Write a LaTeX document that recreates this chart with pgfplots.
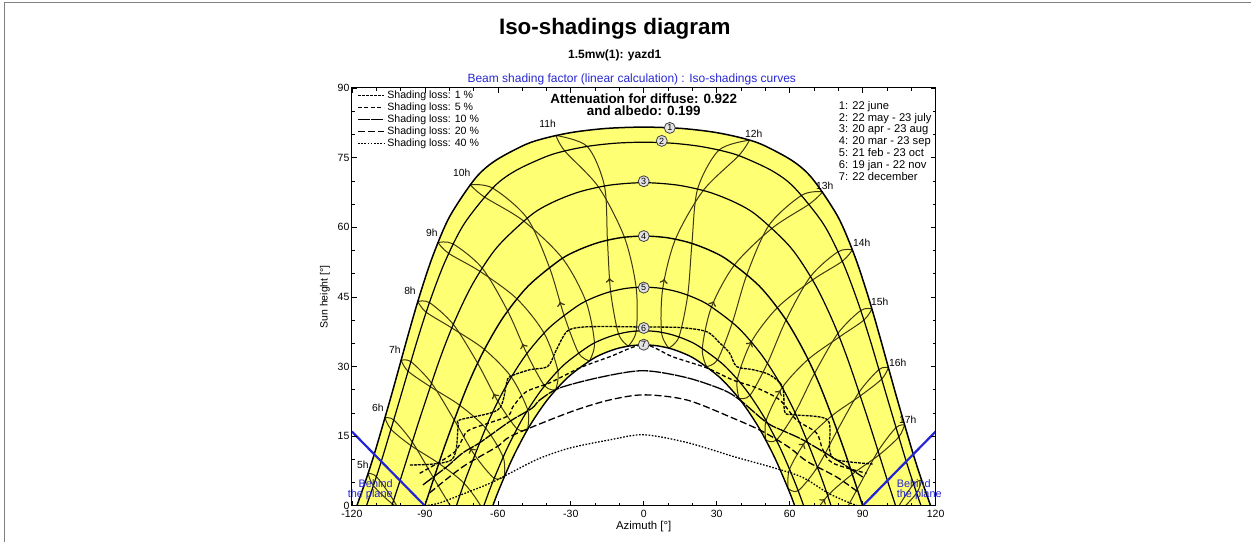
\documentclass[border=0pt]{standalone}
\usepackage{fontspec}
\setmainfont{Liberation Sans}
\usepackage{pgfplots}
\usepackage{pgfplotstable}
\pgfplotsset{compat=1.18}
\usepgfplotslibrary{fillbetween}
\usetikzlibrary{decorations.markings}

\definecolor{sunyellow}{RGB}{255,255,115}
\definecolor{hourline}{RGB}{60,55,15}
\definecolor{planeblue}{RGB}{35,35,215}
\definecolor{titleblue}{RGB}{40,40,210}

% daily sun paths (azimuth, height), 1 = 22 june ... 7 = 22 december
\pgfplotstableread{
az h
-117.94 0
-113.79 6.23
-110.21 12.13
-103.47 24.32
-96.84 36.85
-92.13 45.31
-86.73 53.80
-79.85 62.24
-69.41 70.43
-61.19 74.29
-48.74 77.79
-39.96 79.27
-28.84 80.48
-15.27 81.29
0 81.57
15.27 81.29
28.84 80.48
39.96 79.27
48.74 77.79
61.19 74.29
69.41 70.43
79.85 62.24
86.73 53.80
92.13 45.31
96.84 36.85
103.47 24.32
110.21 12.13
113.79 6.23
117.94 0
}\dayone
\pgfplotstableread{
az h
-114.0 0
-110.79 4.90
-107.35 10.52
-100.31 22.87
-93.19 35.51
-87.96 44.00
-81.82 52.45
-73.81 60.75
-61.71 68.65
-52.59 72.21
-39.86 75.28
-31.68 76.53
-22.17 77.50
-11.44 78.11
0 78.32
11.44 78.11
22.17 77.50
31.68 76.53
39.86 75.28
52.59 72.21
61.71 68.65
73.81 60.75
81.82 52.45
87.96 44.00
93.19 35.51
100.31 22.87
107.35 10.52
110.79 4.90
114.0 0
}\daytwo
\pgfplotstableread{
az h
-103.58 0
-99.80 6.05
-92.13 18.71
-83.97 31.42
-77.71 39.80
-70.15 47.96
-60.33 55.68
-46.57 62.52
-37.47 65.36
-26.54 67.61
-13.85 69.08
0 69.6
13.85 69.08
26.54 67.61
37.47 65.36
46.57 62.52
60.33 55.68
70.15 47.96
77.71 39.80
83.97 31.42
92.13 18.71
99.80 6.05
103.58 0
}\daythree
\pgfplotstableread{
az h
-90 0
-81.94 12.69
-73.04 25.12
-66.09 33.08
-57.80 40.57
-47.53 47.33
-34.56 52.92
-26.89 55.09
-18.45 56.73
-9.40 57.76
0 58.1
9.40 57.76
18.45 56.73
26.89 55.09
34.56 52.92
47.53 47.33
57.80 40.57
66.09 33.08
73.04 25.12
81.94 12.69
90 0
}\dayfour
\pgfplotstableread{
az h
-77.01 0
-72.65 6.60
-63.63 18.42
-56.62 25.78
-48.44 32.52
-38.76 38.39
-27.34 43.02
-20.96 44.77
-14.22 46.05
-7.18 46.84
0 47.1
7.18 46.84
14.22 46.05
20.96 44.77
27.34 43.02
38.76 38.39
48.44 32.52
56.62 25.78
63.63 18.42
72.65 6.60
77.01 0
}\dayfive
\pgfplotstableread{
az h
-65.76 0
-62.15 5.05
-56.19 12.34
-49.45 19.11
-41.74 25.18
-32.89 30.33
-22.83 34.30
-17.40 35.77
-11.73 36.83
-5.91 37.49
0 37.7
5.91 37.49
11.73 36.83
17.40 35.77
22.83 34.30
32.89 30.33
41.74 25.18
49.45 19.11
56.19 12.34
62.15 5.05
65.76 0
}\daysix
\pgfplotstableread{
az h
-62.06 0
-59.72 3.22
-53.87 10.33
-47.27 16.89
-39.75 22.74
-31.20 27.67
-21.59 31.45
-16.42 32.84
-11.06 33.85
-5.57 34.46
0 34.66
5.57 34.46
11.06 33.85
16.42 32.84
21.59 31.45
31.20 27.67
39.75 22.74
47.27 16.89
53.87 10.33
59.72 3.22
62.06 0
}\dayseven

\pgfplotsset{
  hourA/.style={hourline, line width=1bp, smooth, forget plot,
    postaction={decorate},
    decoration={markings, mark=at position 0.3 with {\arrow[scale=1.5]{>}}}},
  hourB/.style={hourline, line width=1bp, smooth, forget plot},
  daycurve/.style={black, line width=1.2bp, smooth, forget plot},
  iso/.style={black, line width=1.3bp, smooth},
}

\newcommand{\fs}[1]{\fontsize{#1bp}{#1bp}\selectfont}

\begin{document}
\begin{tikzpicture}
\path (0bp,0bp) rectangle (1251bp,542bp);
\draw[gray, line width=1bp] (5bp,0bp) -- (5bp,539.5bp) -- (1251bp,539.5bp);

\begin{axis}[
    at={(352bp,36bp)}, anchor=south west,
    scale only axis, width=584bp, height=418bp,
    xmin=-120, xmax=120, ymin=0, ymax=90,
    xtick={-120,-90,...,120}, ytick={0,15,...,90},
    minor x tick num=2, minor y tick num=2,
    tick align=inside, xtick pos=both, ytick pos=both,
    xticklabel pos=lower, yticklabel pos=left,
    major tick length=5bp, minor tick length=3bp,
    tick style={black, line width=0.6bp},
    axis line style={black, line width=1bp},
    ticklabel style={font=\fs{10.5}},
    xticklabel style={yshift=-1bp},
    yticklabel style={xshift=1bp},
    /pgf/number format/assume math mode=true,
    axis on top,
    legend style={at={(axis description cs:0.009,0.996)}, anchor=north west,
        draw=none, fill=none, inner sep=0bp, font=\fs{10.6}, row sep=0bp,
        column sep=2bp,
        nodes={inner sep=0.7bp, text height=8.2bp, text depth=2.3bp}},
    legend cell align=left,
    legend image code/.code={\draw[#1] (0bp,0bp) -- (26bp,0bp);},
]

% yellow band between the june and december paths
\addplot[draw=none, name path=june, smooth, forget plot] table[x=az, y=h] {\dayone};
\addplot[draw=none, name path=dec, smooth, forget plot] table[x=az, y=h] {\dayseven};
\addplot[sunyellow, forget plot] fill between[of=june and dec];

% hour lines (analemmas): dec -> june with arrow, june -> dec back
\addplot[hourA] coordinates {(-72.41,-16.73) (-76.63,-17.83) (-85.53,-13.85) (-94.26,-6.80) (-102.84,1.16) (-109.92,6.28) (-113.33,6.96)};
\addplot[hourB] coordinates {(-113.33,6.96) (-111.15,4.33) (-103.33,0.40) (-92.23,-3.58) (-81.74,-7.61) (-73.72,-12.73) (-72.41,-16.73)};
\addplot[hourA] coordinates {(-65.33,-4.85) (-69.45,-5.66) (-77.81,-1.26) (-86.30,5.92) (-95.15,13.73) (-102.75,18.49) (-106.37,18.93)};
\addplot[hourB] coordinates {(-106.37,18.93) (-103.90,16.47) (-95.62,12.94) (-84.26,9.14) (-73.85,4.84) (-66.27,-0.76) (-65.33,-4.85)};
\addplot[hourA] coordinates {(-57.29,6.33) (-61.48,5.93) (-69.55,10.96) (-77.96,18.52) (-87.29,26.46) (-95.75,31.05) (-99.77,31.33)};
\addplot[hourB] coordinates {(-99.77,31.33) (-96.91,28.99) (-87.80,25.67) (-75.68,21.67) (-65.03,16.76) (-57.80,10.49) (-57.29,6.33)};
\addplot[hourA] coordinates {(-47.77,16.44) (-52.12,16.59) (-59.95,22.48) (-68.30,30.72) (-78.30,39.08) (-88.11,43.77) (-92.89,43.98)};
\addplot[hourB] coordinates {(-92.89,43.98) (-89.45,41.70) (-78.91,38.31) (-65.49,33.68) (-54.46,27.74) (-47.69,20.63) (-47.77,16.44)};
\addplot[hourA] coordinates {(-36.23,24.97) (-40.75,25.84) (-48.07,32.79) (-55.95,41.97) (-66.45,51.22) (-78.36,56.40) (-84.60,56.70)};
\addplot[hourB] coordinates {(-84.60,56.70) (-80.21,54.37) (-67.32,50.49) (-52.16,44.59) (-41.00,37.21) (-35.30,29.10) (-36.23,24.97)};
\addplot[hourA] coordinates {(-22.31,31.22) (-26.81,32.94) (-32.79,41.08) (-38.81,51.40) (-47.97,61.97) (-62.12,68.43) (-71.45,69.18)};
\addplot[hourB] coordinates {(-71.45,69.18) (-65.63,66.56) (-49.44,61.37) (-33.42,53.30) (-23.79,44.06) (-20.25,35.06) (-22.31,31.22)};
\addplot[hourA] coordinates {(-6.37,34.40) (-10.37,37.03) (-13.62,46.14) (-14.93,57.20) (-16.16,68.91) (-23.24,77.40) (-36.11,79.77)};
\addplot[hourB] coordinates {(-36.11,79.77) (-32.45,76.41) (-18.59,68.67) (-7.95,57.84) (-3.13,47.05) (-3.08,37.65) (-6.37,34.40)};
\addplot[hourA] coordinates {(10.28,33.96) (7.29,37.37) (7.80,46.79) (13.04,57.43) (24.46,67.92) (39.04,75.42) (43.48,78.76)};
\addplot[hourB] coordinates {(43.48,78.76) (30.90,76.61) (22.15,68.25) (19.81,56.52) (18.08,45.38) (14.47,36.38) (10.28,33.96)};
\addplot[hourA] coordinates {(25.83,29.99) (24.08,33.90) (27.87,42.86) (37.37,51.93) (52.88,59.84) (68.18,65.03) (73.64,67.66)};
\addplot[hourB] coordinates {(73.64,67.66) (65.03,66.92) (51.54,60.46) (42.44,49.85) (36.44,39.51) (30.38,31.49) (25.83,29.99)};
\addplot[hourA] coordinates {(39.17,23.13) (38.49,27.27) (44.23,35.33) (54.96,42.70) (69.41,48.65) (81.64,52.67) (85.78,55.14)};
\addplot[hourB] coordinates {(85.78,55.14) (79.89,54.73) (68.59,49.40) (58.51,40.01) (50.87,30.71) (43.68,23.80) (39.17,23.13)};
\addplot[hourA] coordinates {(50.19,14.16) (50.29,18.34) (56.94,25.48) (67.56,31.52) (80.41,36.36) (90.51,39.99) (93.79,42.40)};
\addplot[hourB] coordinates {(93.79,42.40) (89.21,42.07) (79.82,37.14) (70.23,28.52) (62.19,20.05) (54.52,14.16) (50.19,14.16)};
\addplot[hourA] coordinates {(59.32,3.75) (59.95,7.89) (67.07,14.23) (77.34,19.39) (89.05,23.69) (97.85,27.30) (100.59,29.77)};
\addplot[hourB] coordinates {(100.59,29.77) (96.70,29.35) (88.55,24.48) (79.56,16.23) (71.43,8.35) (63.48,3.24) (59.32,3.75)};
\addplot[hourA] coordinates {(67.08,-7.61) (68.12,-3.57) (75.62,2.17) (85.74,6.80) (96.81,10.98) (104.84,14.81) (107.21,17.42)};
\addplot[hourB] coordinates {(107.21,17.42) (103.69,16.83) (96.33,11.77) (87.77,3.58) (79.51,-3.97) (71.22,-8.52) (67.08,-7.61)};
\addplot[hourB] coordinates {(83.41,-10.35) (93.70,-5.92) (104.57,-1.52) (112.18,2.74) (114.25,5.51)};
\addplot[hourB] coordinates {(114.25,5.51) (110.93,4.67) (104.07,-0.76) (95.74,-9.14)};

% daily paths
\addplot[daycurve, line width=1.5bp] table[x=az, y=h] {\dayone};
\addplot[daycurve] table[x=az, y=h] {\daytwo};
\addplot[daycurve] table[x=az, y=h] {\daythree};
\addplot[daycurve, line width=1.4bp] table[x=az, y=h] {\dayfour};
\addplot[daycurve] table[x=az, y=h] {\dayfive};
\addplot[daycurve] table[x=az, y=h] {\daysix};
\addplot[daycurve, line width=1.4bp] table[x=az, y=h] {\dayseven};

% behind the plane
\addplot[planeblue, line width=2.2bp, forget plot] coordinates {(-120,16) (-90,0)};
\addplot[planeblue, line width=2.2bp, forget plot] coordinates {(90,0) (120,16)};

% iso-shading curves
\addplot[iso, dash pattern=on 3bp off 1bp] coordinates {
(-96.2,8.8) (-79.0,9.9) (-76.3,17.1) (-75.6,18.5) (-59.9,20.7) (-56.4,26.4)
(-55.1,27.8) (-46.9,29.3) (-39.5,30.0) (-36,33.5) (-31.5,37.6) (-25,38.5)
(-12,38.6) (0,38.5) (15,38.4) (25.9,37.5) (31.2,35.1) (35.3,32.9) (38.2,30.0)
(45,29.3) (51.8,28.2) (57.1,25.6) (58.0,20.2) (62.0,19.6) (75.6,18.5)
(76.4,12.1) (79.3,9.9) (94.1,9.0)};
\addlegendentry{Shading loss: 1 \%}
\addplot[iso, dash pattern=on 4bp off 2.5bp] coordinates {
(-92.1,7.0) (-78.4,11.3) (-74.3,14.6) (-71.5,16.4) (-56.4,19.2) (-53.7,21.4)
(-48.2,24.6) (-38.6,26.5) (-26.3,29.7) (-14,32.1) (0,34.7) (11.9,32.1)
(25.9,29.7) (36.6,27.1) (46.4,25.4) (55.9,22.8) (62.8,18.5) (71,15.7)
(73.6,12.1) (77.7,9.2) (91.6,7.0)};
\addlegendentry{Shading loss: 5 \%}
\addplot[iso, dash pattern=on 12bp off 1bp] coordinates {
(-90.8,4.5) (-81,8.4) (-74.4,11.4) (-67.4,13.6) (-55,18.2) (-46,21)
(-42.7,22.8) (-34.5,25.4) (-16.9,27.8) (0,29.1) (17.7,27.6) (32.5,25)
(39.5,22.8) (50.6,17.9) (58,16) (65.4,14.2) (79.3,9.9) (90,6.2)};
\addlegendentry{Shading loss: 10 \%}
\addplot[iso, dash pattern=on 7bp off 3bp] coordinates {
(-88,2.8) (-74.4,8.4) (-60.4,12.7) (-55,14.9) (-41.5,17.9) (-27.5,20.7)
(-14,22.8) (0,23.9) (17.7,22.8) (36.6,18.9) (48.9,16) (60,12.5) (67,9.6)
(79.3,6.2) (88,3)};
\addlegendentry{Shading loss: 20 \%}
\addplot[iso, dash pattern=on 1.6bp off 1.6bp] coordinates {
(-90,0) (-84,0.6) (-73,2.8) (-63,4.9) (-54,7.3) (-47,9.2) (-41,10.6)
(-30,12.5) (-14,14.2) (0,15.3) (18,13.6) (37,10.6) (52,8.4) (65,6.2)
(75.6,2.8) (83.4,0.9) (88,0)};
\addlegendentry{Shading loss: 40 \%}

% date numbers
\foreach \n/\x/\y in {1/10.7/81.4, 2/7.4/78.6, 3/0/69.9, 4/0/58.1, 5/0/47.0, 6/0/38.3, 7/0/34.7}{
  \edef\tmp{\noexpand\node[circle, draw=black!75, fill=gray!22, line width=0.8bp,
    inner sep=0pt, minimum size=11bp, font=\noexpand\fs{9}] at (axis cs:\x,\y) {\n};}
  \tmp
}

% hour labels
\foreach \t/\x/\y in {5h/-115.5/8.8, 6h/-109.3/21.1, 7h/-102.3/33.6, 8h/-96.1/46.3,
    9h/-87.1/58.8, 10h/-74.8/71.8, 11h/-39.5/82.2, 12h/45.2/80.2, 13h/74.4/69.0,
    14h/89.6/56.6, 15h/97.0/43.9, 16h/104.4/30.9, 17h/108.5/18.5}{
  \edef\tmp{\noexpand\node[font=\noexpand\fs{10.3}, inner sep=0pt] at (axis cs:\x,\y) {\t};}
  \tmp
}
\end{axis}

% titles and free texts
\node[font=\bfseries\fs{22.4}] at (615bp,513bp) {Iso-shadings diagram};
\node[font=\bfseries\fs{12}] at (615bp,487bp) {1.5mw(1): yazd1};
\node[font=\fs{12}, text=titleblue] at (632bp,463bp) {Beam shading factor (linear calculation) : Iso-shadings curves};
\node[font=\bfseries\fontsize{13.4bp}{11.6bp}\selectfont, align=center, inner sep=0pt] at (644bp,437bp)
  {Attenuation for diffuse: 0.922\\and albedo: 0.199};
\node[font=\fontsize{11.2bp}{11.8bp}\selectfont, align=left, anchor=north west, inner sep=0pt]
  at (839bp,441bp) {1: 22 june\\2: 22 may - 23 july\\3: 20 apr - 23 aug\\4: 20 mar - 23 sep\\5: 21 feb - 23 oct\\6: 19 jan - 22 nov\\7: 22 december};
\node[font=\fontsize{10.9bp}{10bp}\selectfont, text=planeblue, align=right, anchor=east, inner sep=0pt]
  at (393bp,52bp) {Behind\\the plane};
\node[font=\fontsize{10.9bp}{10bp}\selectfont, text=planeblue, align=left, anchor=west, inner sep=0pt]
  at (897bp,52bp) {Behind\\the plane};
\node[font=\fs{11.4}] at (644bp,15bp) {Azimuth [°]};
\node[font=\fs{10.5}, rotate=90] at (325bp,245bp) {Sun height [°]};
\end{tikzpicture}
\end{document}
